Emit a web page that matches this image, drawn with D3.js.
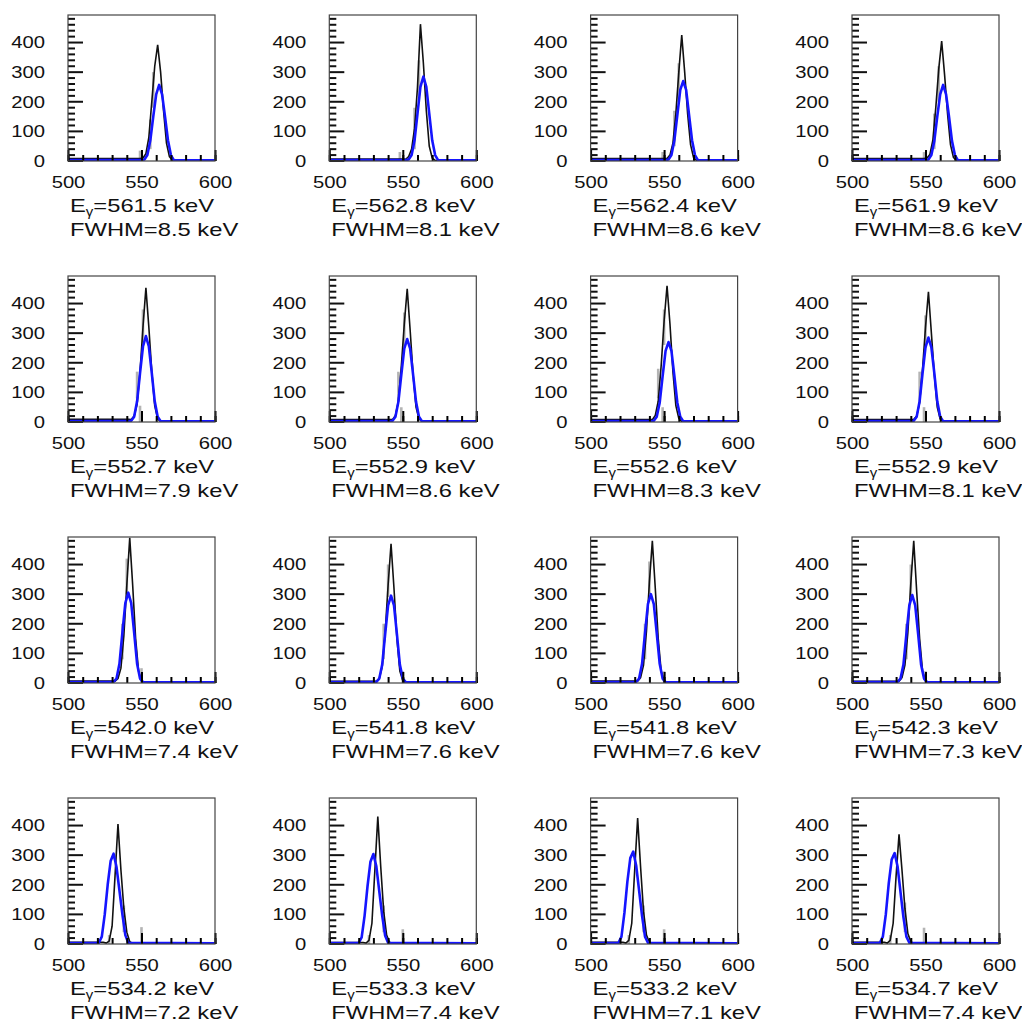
<!DOCTYPE html>
<html>
<head>
<meta charset="utf-8">
<script src="https://cdn.jsdelivr.net/npm/d3@7"></script>
<style>
  body { margin: 0; background: #fff; }
  text { font-family: "Liberation Sans", Arial, sans-serif; fill: #111; }
</style>
</head>
<body>
<div id="chart"></div>
<script>
// fitted line energies and widths, one per panel (row by row)
const energies = ['561.5', '562.8', '562.4', '561.9', '552.7', '552.9', '552.6', '552.9',
                  '542.0', '541.8', '541.8', '542.3', '534.2', '533.3', '533.2', '534.7'];
const fwhms = ['8.5', '8.1', '8.6', '8.6', '7.9', '8.6', '8.3', '8.1',
               '7.4', '7.6', '7.6', '7.3', '7.2', '7.4', '7.1', '7.4'];

// black histogram around the peak, 2 keV steps from blackStart
const blackStart = [551, 552, 552, 551, 543, 543, 542, 542, 532, 532, 532, 532, 526, 525, 524, 524];
const blackCounts = [
  [10, 25, 80, 200, 320, 392, 300, 170, 60, 15, 3],
  [6, 15, 40, 110, 250, 462, 330, 170, 50, 10, 2],
  [8, 20, 60, 160, 300, 425, 300, 160, 55, 12, 2],
  [10, 22, 70, 180, 310, 405, 290, 160, 55, 12, 2],
  [8, 20, 60, 170, 320, 453, 320, 170, 55, 10, 2],
  [8, 22, 70, 190, 330, 450, 310, 160, 50, 10, 2],
  [8, 22, 70, 190, 340, 460, 330, 170, 55, 12, 2],
  [8, 20, 65, 180, 320, 440, 300, 160, 50, 10, 2],
  [6, 15, 50, 160, 330, 490, 330, 150, 40, 8, 2],
  [6, 15, 55, 170, 330, 470, 320, 150, 40, 8, 2],
  [6, 18, 60, 175, 340, 480, 320, 150, 40, 8, 2],
  [6, 18, 60, 170, 335, 480, 310, 150, 40, 8, 2],
  [3, 10, 60, 230, 405, 250, 120, 40, 8, 2, 1],
  [3, 12, 70, 250, 430, 260, 110, 30, 6, 2, 1],
  [3, 12, 70, 250, 425, 260, 110, 30, 6, 2, 1],
  [3, 12, 70, 230, 370, 250, 120, 35, 8, 2, 1]
];
// background level of the black histogram below the peak
const bgLeft = [8, 7, 8, 8, 9, 8, 8, 8, 7, 6, 7, 6, 6, 5, 6, 6];

// blue fit, 2 keV steps from blueStart
const blueStart = [552, 554, 553, 552, 543, 543, 543, 542, 531, 532, 531, 531, 521, 520, 519, 519];
const blueCounts = [
  [5, 20, 70, 150, 225, 257, 225, 150, 70, 20, 3],
  [5, 20, 70, 160, 250, 285, 250, 160, 70, 20, 3],
  [5, 20, 70, 155, 240, 270, 240, 155, 70, 20, 3],
  [5, 20, 68, 150, 225, 257, 225, 150, 68, 20, 3],
  [4, 18, 70, 165, 255, 290, 255, 165, 70, 18, 3],
  [4, 18, 68, 160, 248, 280, 248, 160, 68, 18, 3],
  [4, 18, 65, 155, 240, 270, 240, 155, 65, 18, 3],
  [4, 18, 70, 165, 252, 285, 252, 165, 70, 18, 3],
  [4, 15, 65, 170, 270, 305, 270, 170, 65, 15, 3],
  [4, 15, 62, 165, 262, 295, 262, 165, 62, 15, 3],
  [4, 15, 65, 168, 266, 300, 266, 168, 65, 15, 3],
  [4, 15, 62, 165, 262, 297, 262, 165, 62, 15, 3],
  [4, 25, 100, 200, 280, 305, 260, 180, 100, 30, 4],
  [4, 22, 95, 195, 278, 304, 262, 178, 95, 28, 4],
  [4, 25, 105, 210, 290, 312, 265, 180, 95, 25, 4],
  [4, 25, 100, 205, 285, 307, 262, 175, 90, 25, 4]
];

// light grey error bars: [energy, low, high]
const grayBars = [
  [[549, 0, 35], [556, 40, 140], [558, 180, 300]],
  [[548, 0, 30], [558, 40, 180], [561, 220, 340]],
  [[549, 0, 30], [557, 50, 170], [560, 200, 330]],
  [[549, 0, 30], [556, 40, 160], [559, 200, 320]],
  [[549, 0, 55], [547, 80, 170], [551, 260, 380]],
  [[549, 0, 50], [547, 70, 170], [551, 250, 370]],
  [[549, 0, 50], [546, 80, 180], [550, 260, 380]],
  [[549, 0, 50], [546, 70, 170], [550, 250, 360]],
  [[550, 0, 50], [537, 80, 200], [540, 300, 420]],
  [[550, 0, 40], [537, 80, 200], [540, 290, 400]],
  [[550, 0, 40], [537, 80, 200], [540, 300, 410]],
  [[550, 0, 40], [537, 80, 200], [540, 290, 400]],
  [[550, 0, 57], [538, 40, 130], [528, 0, 30]],
  [[550, 0, 50], [537, 40, 130], [527, 0, 30]],
  [[550, 0, 50], [536, 40, 130], [526, 0, 30]],
  [[549, 0, 55], [536, 40, 140], [526, 0, 30]]
];

const xMajor = [500, 550, 600];
const yMajor = [0, 100, 200, 300, 400];
const yMinor = d3.range(0, 481, 20);

const colX = [68, 329.3, 590.6, 852];
const rowY = [15, 276, 537, 798];
const fw = 147, fh = 146;
const stretch = 1.19;
const labelStretch = 1.25;

const svg = d3.select('#chart').append('svg')
  .attr('width', 1022)
  .attr('height', 1029);

const x = d3.scaleLinear().domain([500, 600]).range([0, fw]);
const y = d3.scaleLinear().domain([0, 493]).range([fh, 0]);
const line = d3.line().x(d => x(d[0])).y(d => y(d[1]));

energies.forEach((e, i) => {
  const r = Math.floor(i / 4), c = i % 4;
  const g = svg.append('g').attr('transform', `translate(${colX[c]},${rowY[r]})`);

  g.append('clipPath').attr('id', 'clip' + i)
    .append('rect').attr('width', fw).attr('height', fh);
  const plot = g.append('g').attr('clip-path', `url(#clip${i})`);

  plot.selectAll('line.err')
    .data(grayBars[i])
    .enter().append('line')
    .attr('class', 'err')
    .attr('x1', d => x(d[0])).attr('x2', d => x(d[0]))
    .attr('y1', d => y(d[1])).attr('y2', d => y(d[2]))
    .attr('stroke', '#b4b4b4')
    .attr('stroke-width', 2.6);

  const bk = blackCounts[i].map((v, k) => [blackStart[i] + 2 * k, v]);
  const blackPts = [[500, bgLeft[i]], [blackStart[i] - 2, bgLeft[i]]].concat(bk, [[600, 1]]);
  plot.append('path')
    .attr('d', line(blackPts))
    .attr('fill', 'none')
    .attr('stroke', '#111')
    .attr('stroke-width', 1.6);

  const bl = blueCounts[i].map((v, k) => [blueStart[i] + 2 * k, v]);
  const bluePts = [[500, 3], [blueStart[i] - 2, 3]].concat(bl, [[600, 2]]);
  plot.append('path')
    .attr('d', line(bluePts))
    .attr('fill', 'none')
    .attr('stroke', '#1515ff')
    .attr('stroke-width', 2.6)
    .attr('stroke-linejoin', 'round');

  // x axis: minor and major ticks pointing inward
  g.append('g')
    .attr('transform', `translate(0,${fh})`)
    .call(d3.axisBottom(x).tickValues(d3.range(500, 601, 10)).tickSize(-6).tickFormat(''))
    .call(a => a.select('.domain').remove());
  const xa = g.append('g')
    .attr('transform', `translate(0,${fh})`)
    .call(d3.axisBottom(x).tickValues(xMajor).tickSize(-11).tickPadding(15).tickFormat(d3.format('d')))
    .call(a => a.select('.domain').remove());
  xa.selectAll('text')
    .attr('font-size', 17)
    .attr('transform', `scale(${stretch},1)`);
  g.selectAll('.tick line').attr('stroke', '#000').attr('stroke-width', 2);

  // y axis ticks as small filled bars, inward from the left frame edge
  g.selectAll('rect.ytick')
    .data(yMinor)
    .enter().append('rect')
    .attr('class', 'ytick')
    .attr('x', 0)
    .attr('y', d => y(d) - 1)
    .attr('width', d => d % 100 === 0 ? 15 : 7)
    .attr('height', 2)
    .attr('fill', '#111');

  const ya = g.append('g')
    .call(d3.axisLeft(y).tickValues(yMajor).tickSize(0).tickFormat(d3.format('d')))
    .call(a => a.select('.domain').remove());
  ya.selectAll('text')
    .attr('x', 0)
    .attr('font-size', 17)
    .attr('transform', `translate(-23,0) scale(${stretch},1)`);

  g.append('rect')
    .attr('width', fw).attr('height', fh)
    .attr('fill', 'none')
    .attr('stroke', '#444')
    .attr('stroke-width', 1.2);

  const t1 = g.append('text')
    .attr('transform', `translate(2,${fh + 51}) scale(${labelStretch},1)`)
    .attr('font-size', 19);
  t1.append('tspan').text('E');
  t1.append('tspan').attr('font-size', 12).attr('dy', 4).text('γ');
  t1.append('tspan').attr('dy', -4).text('=' + e + ' keV');

  g.append('text')
    .attr('transform', `translate(2,${fh + 75}) scale(${labelStretch},1)`)
    .attr('font-size', 19)
    .text('FWHM=' + fwhms[i] + ' keV');
});
</script>
</body>
</html>
